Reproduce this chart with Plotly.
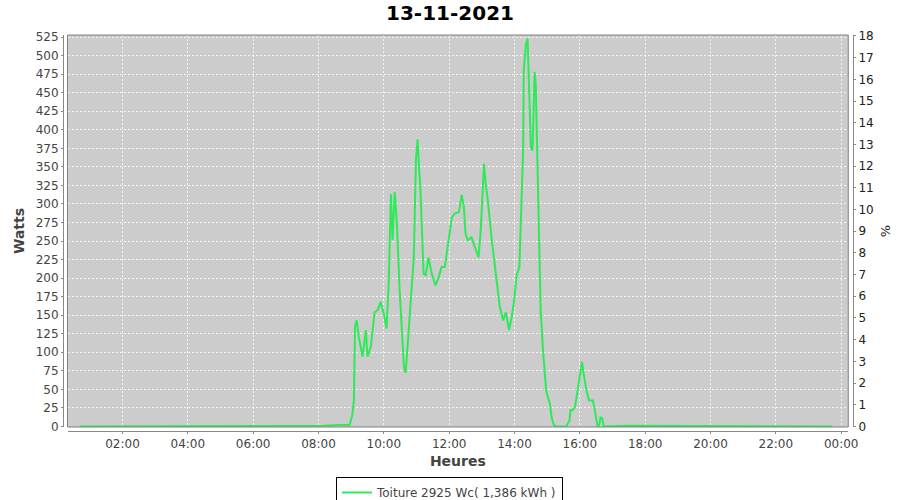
import plotly.graph_objects as go

DAY = "2021-11-13"

times = ["00:42", "06:58", "07:10", "07:40", "08:10", "08:40", "08:57", "09:02", "09:05", "09:07",
         "09:10", "09:14", "09:21", "09:27", "09:30", "09:36", "09:43", "09:49", "09:54", "10:00",
         "10:05", "10:09", "10:13", "10:16", "10:20", "10:24", "10:29", "10:37", "10:40", "10:44",
         "10:49", "10:55", "10:59", "11:02", "11:05", "11:07", "11:10", "11:13", "11:17", "11:22",
         "11:28", "11:35", "11:41", "11:46", "11:52", "11:59", "12:05", "12:10", "12:18", "12:23",
         "12:27", "12:30", "12:34", "12:41", "12:49", "12:54", "12:58", "13:02", "13:04", "13:07",
         "13:11", "13:18", "13:24", "13:29", "13:33", "13:39", "13:44", "13:50", "13:55", "13:59",
         "14:04", "14:09", "14:12", "14:16", "14:17", "14:21", "14:24", "14:26", "14:28", "14:30",
         "14:33", "14:35", "14:37", "14:39", "14:41", "14:45", "14:48", "14:52", "14:55", "14:58",
         "15:01", "15:05", "15:08", "15:12", "15:16", "15:35", "15:41", "15:43", "15:47", "15:51",
         "15:56", "16:00", "16:04", "16:07", "16:12", "16:17", "16:24", "16:27", "16:32", "16:35",
         "16:38", "16:41", "16:44", "17:30", "18:30", "20:00", "22:00", "23:44"]

watts = [0, 0, 1, 1, 1, 2, 2, 15, 35, 134,
         143, 121, 94, 130, 94, 107, 154, 157, 168, 152,
         132, 193, 313, 251, 316, 274, 184, 80, 72, 112,
         161, 228, 360, 387, 345, 323, 265, 206, 204, 228,
         206, 190, 202, 215, 215, 255, 282, 287, 289, 312,
         296, 260, 251, 255, 240, 228, 265, 336, 354, 327,
         305, 253, 215, 184, 161, 143, 154, 130, 148, 168,
         204, 215, 282, 377, 480, 516, 523, 480, 408, 377,
         372, 431, 478, 462, 399, 287, 157, 107, 71, 49,
         40, 31, 13, 2, 0, 0, 8, 22, 22, 26,
         49, 67, 87, 71, 49, 35, 35, 24, 2, 0,
         12, 11, 0, 1, 1, 1, 1, 0]

PEAK_WC = 2925.0
series_name = "Toiture 2925 Wc( 1,386 kWh )"
y_range = [-0.8, 527.8]
x_range = ["2021-11-13 00:19", "2021-11-14 00:13"]

x_dt = [f"{DAY} {t}" for t in times]

FONT = "DejaVu Sans"
TXT = "#444444"
AXC = "#888888"

fig = go.Figure()
fig.add_trace(go.Scatter(
    x=x_dt, y=watts, mode="lines", name=series_name,
    line=dict(color="#2EEA58", width=2), yaxis="y"))
fig.add_trace(go.Scatter(
    x=[x_dt[0]], y=[0], mode="markers", marker=dict(opacity=0),
    showlegend=False, hoverinfo="skip", yaxis="y2"))

fig.update_layout(
    width=900, height=500,
    margin=dict(l=63, r=47, t=35, b=69, autoexpand=False),
    paper_bgcolor="white",
    plot_bgcolor="#CCCCCC",
    font=dict(family=FONT, size=12, color=TXT),
    title=dict(text="13-11-2021", x=0.5, xanchor="center", y=0.974, yanchor="middle",
               font=dict(family=FONT, size=20, color="black", weight="bold")),
    xaxis=dict(
        type="date", range=x_range, domain=[0.0057, 0.994], anchor="free", position=0,
        automargin=False,
        tickformat="%H:%M", tick0="2021-11-13 00:00", dtick=7200000,
        ticks="outside", ticklen=2, tickcolor=AXC, showline=True, linecolor=AXC, linewidth=1,
        showgrid=True, gridcolor="#F4F4F4", griddash="2px,2px", gridwidth=1, zeroline=False,
        tickfont=dict(size=12, color=TXT),
        title=dict(text="Heures", standoff=5, font=dict(size=14, color=TXT, weight="bold"))),
    yaxis=dict(
        range=y_range, domain=[0.0101, 1], anchor="free", position=0, automargin=False,
        tick0=0, dtick=25, ticks="outside", ticklen=2, tickcolor=AXC,
        showline=True, linecolor=AXC, linewidth=1,
        showgrid=True, gridcolor="#F4F4F4", griddash="2px,2px", gridwidth=1, zeroline=False,
        tickfont=dict(size=12, color=TXT),
        title=dict(text="Watts", standoff=6, font=dict(size=14, color=TXT, weight="bold"))),
    yaxis2=dict(
        overlaying="y", side="right", anchor="free", position=1, automargin=False,
        range=[v / PEAK_WC * 100 for v in y_range],
        tick0=0, dtick=1, ticks="outside", ticklen=2, tickcolor=AXC,
        showline=True, linecolor=AXC, linewidth=1, showgrid=False, zeroline=False,
        tickfont=dict(size=12, color="#222222"),
        title=dict(text="%", standoff=8, font=dict(size=13, color="#222222"))),
    legend=dict(orientation="h", xref="container", yref="container",
                x=0.4994, xanchor="center", y=0.046, yanchor="top",
                bgcolor="white", bordercolor="black", borderwidth=1,
                font=dict(size=12, color=TXT), itemwidth=30),
    shapes=[dict(type="rect", xref="x domain", yref="y domain", x0=0, x1=1, y0=0, y1=1,
                 line=dict(color="#808080", width=1), fillcolor="rgba(0,0,0,0)", layer="above")],
)

fig.write_html("out.html", config={"displayModeBar": False},
               post_script="document.body.style.margin='0px';")
